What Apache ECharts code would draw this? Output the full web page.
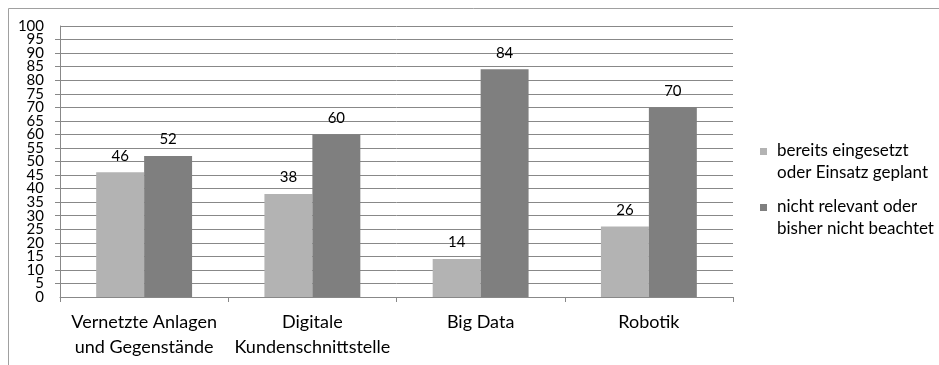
<!DOCTYPE html>
<html>
<head>
<meta charset="utf-8">
<script src="https://cdn.jsdelivr.net/npm/echarts@6/dist/echarts.min.js"></script>
<style>
  html, body { margin: 0; padding: 0; background: #fff; }
  #chart { width: 939px; height: 365px; }
</style>
</head>
<body>
<div id="chart"></div>
<script>
// Categories and values (percent)
const categories = ['Vernetzte Anlagen\nund Gegenstände', 'Digitale\nKundenschnittstelle', 'Big Data', 'Robotik'];
const seriesNames = ['bereits eingesetzt\noder Einsatz geplant', 'nicht relevant oder\nbisher nicht beachtet'];
const usedOrPlanned = [46, 38, 14, 26];
const notRelevant = [52, 60, 84, 70];
const seriesColors = ['#b3b3b3', '#7f7f7f'];

const FONT = 'Lato';
const chart = echarts.init(document.getElementById('chart'), null, { renderer: 'canvas' });

// Legend entries: small square swatch with a two-line caption, swatch aligned with the first line
const legendItems = seriesNames.map((name, i) => ({
  type: 'group',
  left: 760,
  top: 140 + i * 56,
  children: [
    { type: 'rect', shape: { x: 0, y: 8, width: 7, height: 7 }, style: { fill: seriesColors[i] } },
    { type: 'text', x: 17, y: 0, style: { text: name, font: '17px ' + FONT, fill: '#000', lineHeight: 22, verticalAlign: 'top' } }
  ]
}));

const yLabelStyle = { fontFamily: FONT, fontSize: 15, color: '#000', margin: 16, lineHeight: 13 };

chart.setOption({
  backgroundColor: '#ffffff',
  animation: false,
  textStyle: { fontFamily: FONT, color: '#000' },
  graphic: [
    { type: 'line', shape: { x1: 8.5, y1: 8.5, x2: 939, y2: 8.5 }, style: { stroke: '#a0a0a0', lineWidth: 1 } },
    { type: 'line', shape: { x1: 8.5, y1: 8.5, x2: 8.5, y2: 365 }, style: { stroke: '#a0a0a0', lineWidth: 1 } }
  ].concat(legendItems),
  grid: { left: 60, right: 206, top: 26, bottom: 68, containLabel: false },
  xAxis: {
    type: 'category',
    data: categories,
    axisLine: { lineStyle: { color: '#888', width: 1 } },
    axisTick: { show: true, length: 5, alignWithLabel: false, lineStyle: { color: '#888' } },
    axisLabel: { fontFamily: FONT, fontSize: 18, color: '#000', lineHeight: 25, margin: 13, interval: 0 }
  },
  yAxis: [
    {
      // main value axis: grid, ticks and the inner labels 5..95
      type: 'value',
      min: 0,
      max: 100,
      interval: 5,
      axisLine: { show: true, lineStyle: { color: '#888', width: 1 } },
      axisTick: { show: true, length: 5, lineStyle: { color: '#888' } },
      axisLabel: Object.assign({ showMinLabel: false, showMaxLabel: false }, yLabelStyle),
      splitLine: { show: true, lineStyle: { color: '#888', width: 1 } }
    },
    {
      // end labels 0 and 100 on the same scale
      type: 'value',
      position: 'left',
      min: 0,
      max: 100,
      interval: 100,
      axisLine: { show: false },
      axisTick: { show: false },
      splitLine: { show: false },
      axisLabel: Object.assign({ showMinLabel: true, showMaxLabel: true }, yLabelStyle)
    }
  ],
  series: [
    {
      name: seriesNames[0],
      type: 'bar',
      yAxisIndex: 0,
      data: usedOrPlanned,
      barGap: '0%',
      barCategoryGap: '43%',
      itemStyle: { color: seriesColors[0] },
      label: { show: true, position: 'top', distance: 9, fontFamily: FONT, fontSize: 15, color: '#000' }
    },
    {
      name: seriesNames[1],
      type: 'bar',
      yAxisIndex: 0,
      data: notRelevant,
      barGap: '0%',
      barCategoryGap: '43%',
      itemStyle: { color: seriesColors[1] },
      label: { show: true, position: 'top', distance: 9, fontFamily: FONT, fontSize: 15, color: '#000' }
    }
  ]
});
</script>
</body>
</html>
